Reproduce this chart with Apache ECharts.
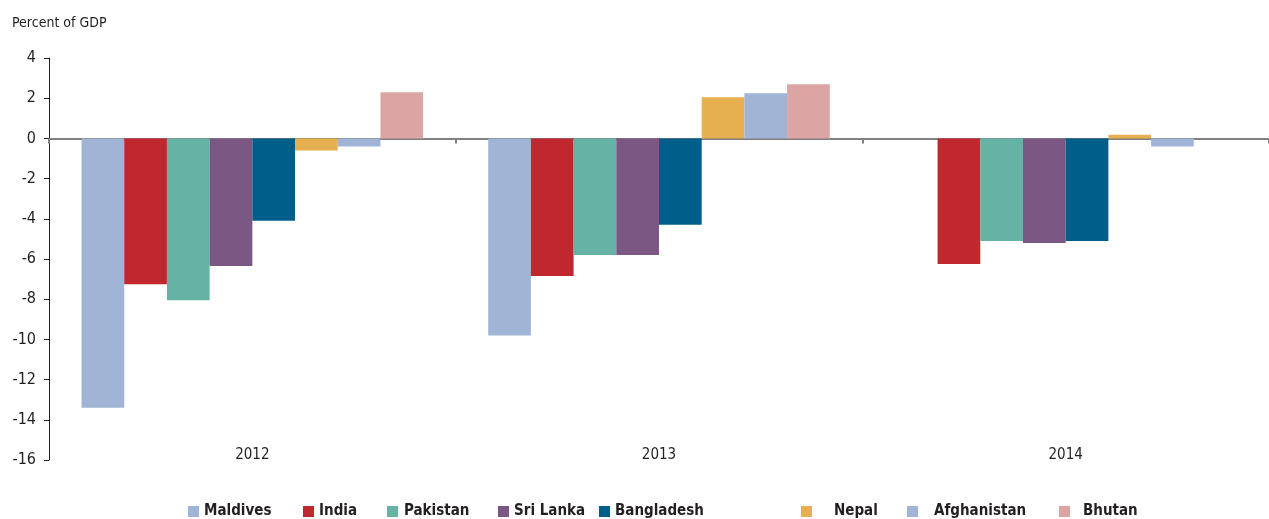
<!DOCTYPE html>
<html>
<head>
<meta charset="utf-8">
<script src="https://cdn.jsdelivr.net/npm/echarts@6/dist/echarts.min.js"></script>
<style>
html, body { margin: 0; padding: 0; background: #fff; }
#main { width: 1269px; height: 519px; }
</style>
</head>
<body>
<div id="main"></div>
<script>
var years = ['2012', '2013', '2014'];
var countries = ['Maldives', 'India', 'Pakistan', 'Sri Lanka', 'Bangladesh', 'Nepal', 'Afghanistan', 'Bhutan'];
var maldives = [-13.4, -9.8, null];
var india = [-7.25, -6.85, -6.25];
var pakistan = [-8.05, -5.8, -5.1];
var sriLanka = [-6.35, -5.8, -5.2];
var bangladesh = [-4.1, -4.3, -5.1];
var nepal = [-0.6, 2.05, 0.18];
var afghanistan = [-0.4, 2.25, -0.4];
var bhutan = [2.3, 2.7, null];
var values = [maldives, india, pakistan, sriLanka, bangladesh, nepal, afghanistan, bhutan];

var colors = ['#a0b4d6', '#c1272f', '#66b3a5', '#7b5884', '#005f8a', '#e6b051', '#a0b4d6', '#dba5a4'];
// legend placement (icon left edge, gap before text)
var legendLeft = [188, 303, 387, 498, 599, 801, 907, 1059];
var legendPad = [0, 0, 1, 0, 0, 17, 11, 8];

var fontCond = "'Liberation Sans Narrow', 'DejaVu Sans Condensed', sans-serif";

var series = countries.map(function(name, i) {
    return {
        name: name,
        type: 'bar',
        xAxisIndex: 0,
        barGap: 0,
        barCategoryGap: '16%',
        itemStyle: { color: colors[i] },
        data: values[i]
    };
});

var legends = countries.map(function(name, i) {
    return {
        data: [name],
        left: legendLeft[i],
        top: 504,
        padding: 0,
        itemGap: 0,
        itemWidth: 11,
        itemHeight: 11,
        icon: 'rect',
        selectedMode: false,
        textStyle: {
            fontFamily: fontCond,
            fontWeight: 'bold',
            fontSize: 15,
            color: '#231f20',
            padding: [0, 0, 0, legendPad[i]]
        }
    };
});

var option = {
    animation: false,
    color: colors,
    title: {
        text: 'Percent of GDP',
        left: 7,
        top: 11,
        textStyle: { fontFamily: fontCond, fontWeight: 'normal', fontSize: 14, color: '#231f20' }
    },
    legend: legends,
    grid: { left: 49, right: -7, top: 58, bottom: 59 },
    xAxis: [{
        type: 'category',
        data: years,
        position: 'bottom',
        axisLine: { onZero: true, lineStyle: { color: '#808080', width: 2 } },
        axisTick: { show: true, length: 5, lineStyle: { color: '#808080', width: 2 } },
        axisLabel: { show: false }
    }, {
        type: 'category',
        data: years,
        position: 'bottom',
        axisLine: { show: false, onZero: false },
        axisTick: { show: false },
        axisLabel: { margin: -12, fontFamily: fontCond, fontSize: 15, color: '#231f20' }
    }],
    yAxis: {
        type: 'value',
        min: -16,
        max: 4,
        interval: 2,
        axisLine: { show: true, lineStyle: { color: '#231f20', width: 1 } },
        axisTick: { show: true, length: 5, lineStyle: { color: '#231f20' } },
        splitLine: { show: false },
        axisLabel: { margin: 13, fontFamily: fontCond, fontSize: 16, color: '#231f20' }
    },
    series: series
};

var myChart = echarts.init(document.getElementById('main'));
myChart.setOption(option);
</script>
</body>
</html>
